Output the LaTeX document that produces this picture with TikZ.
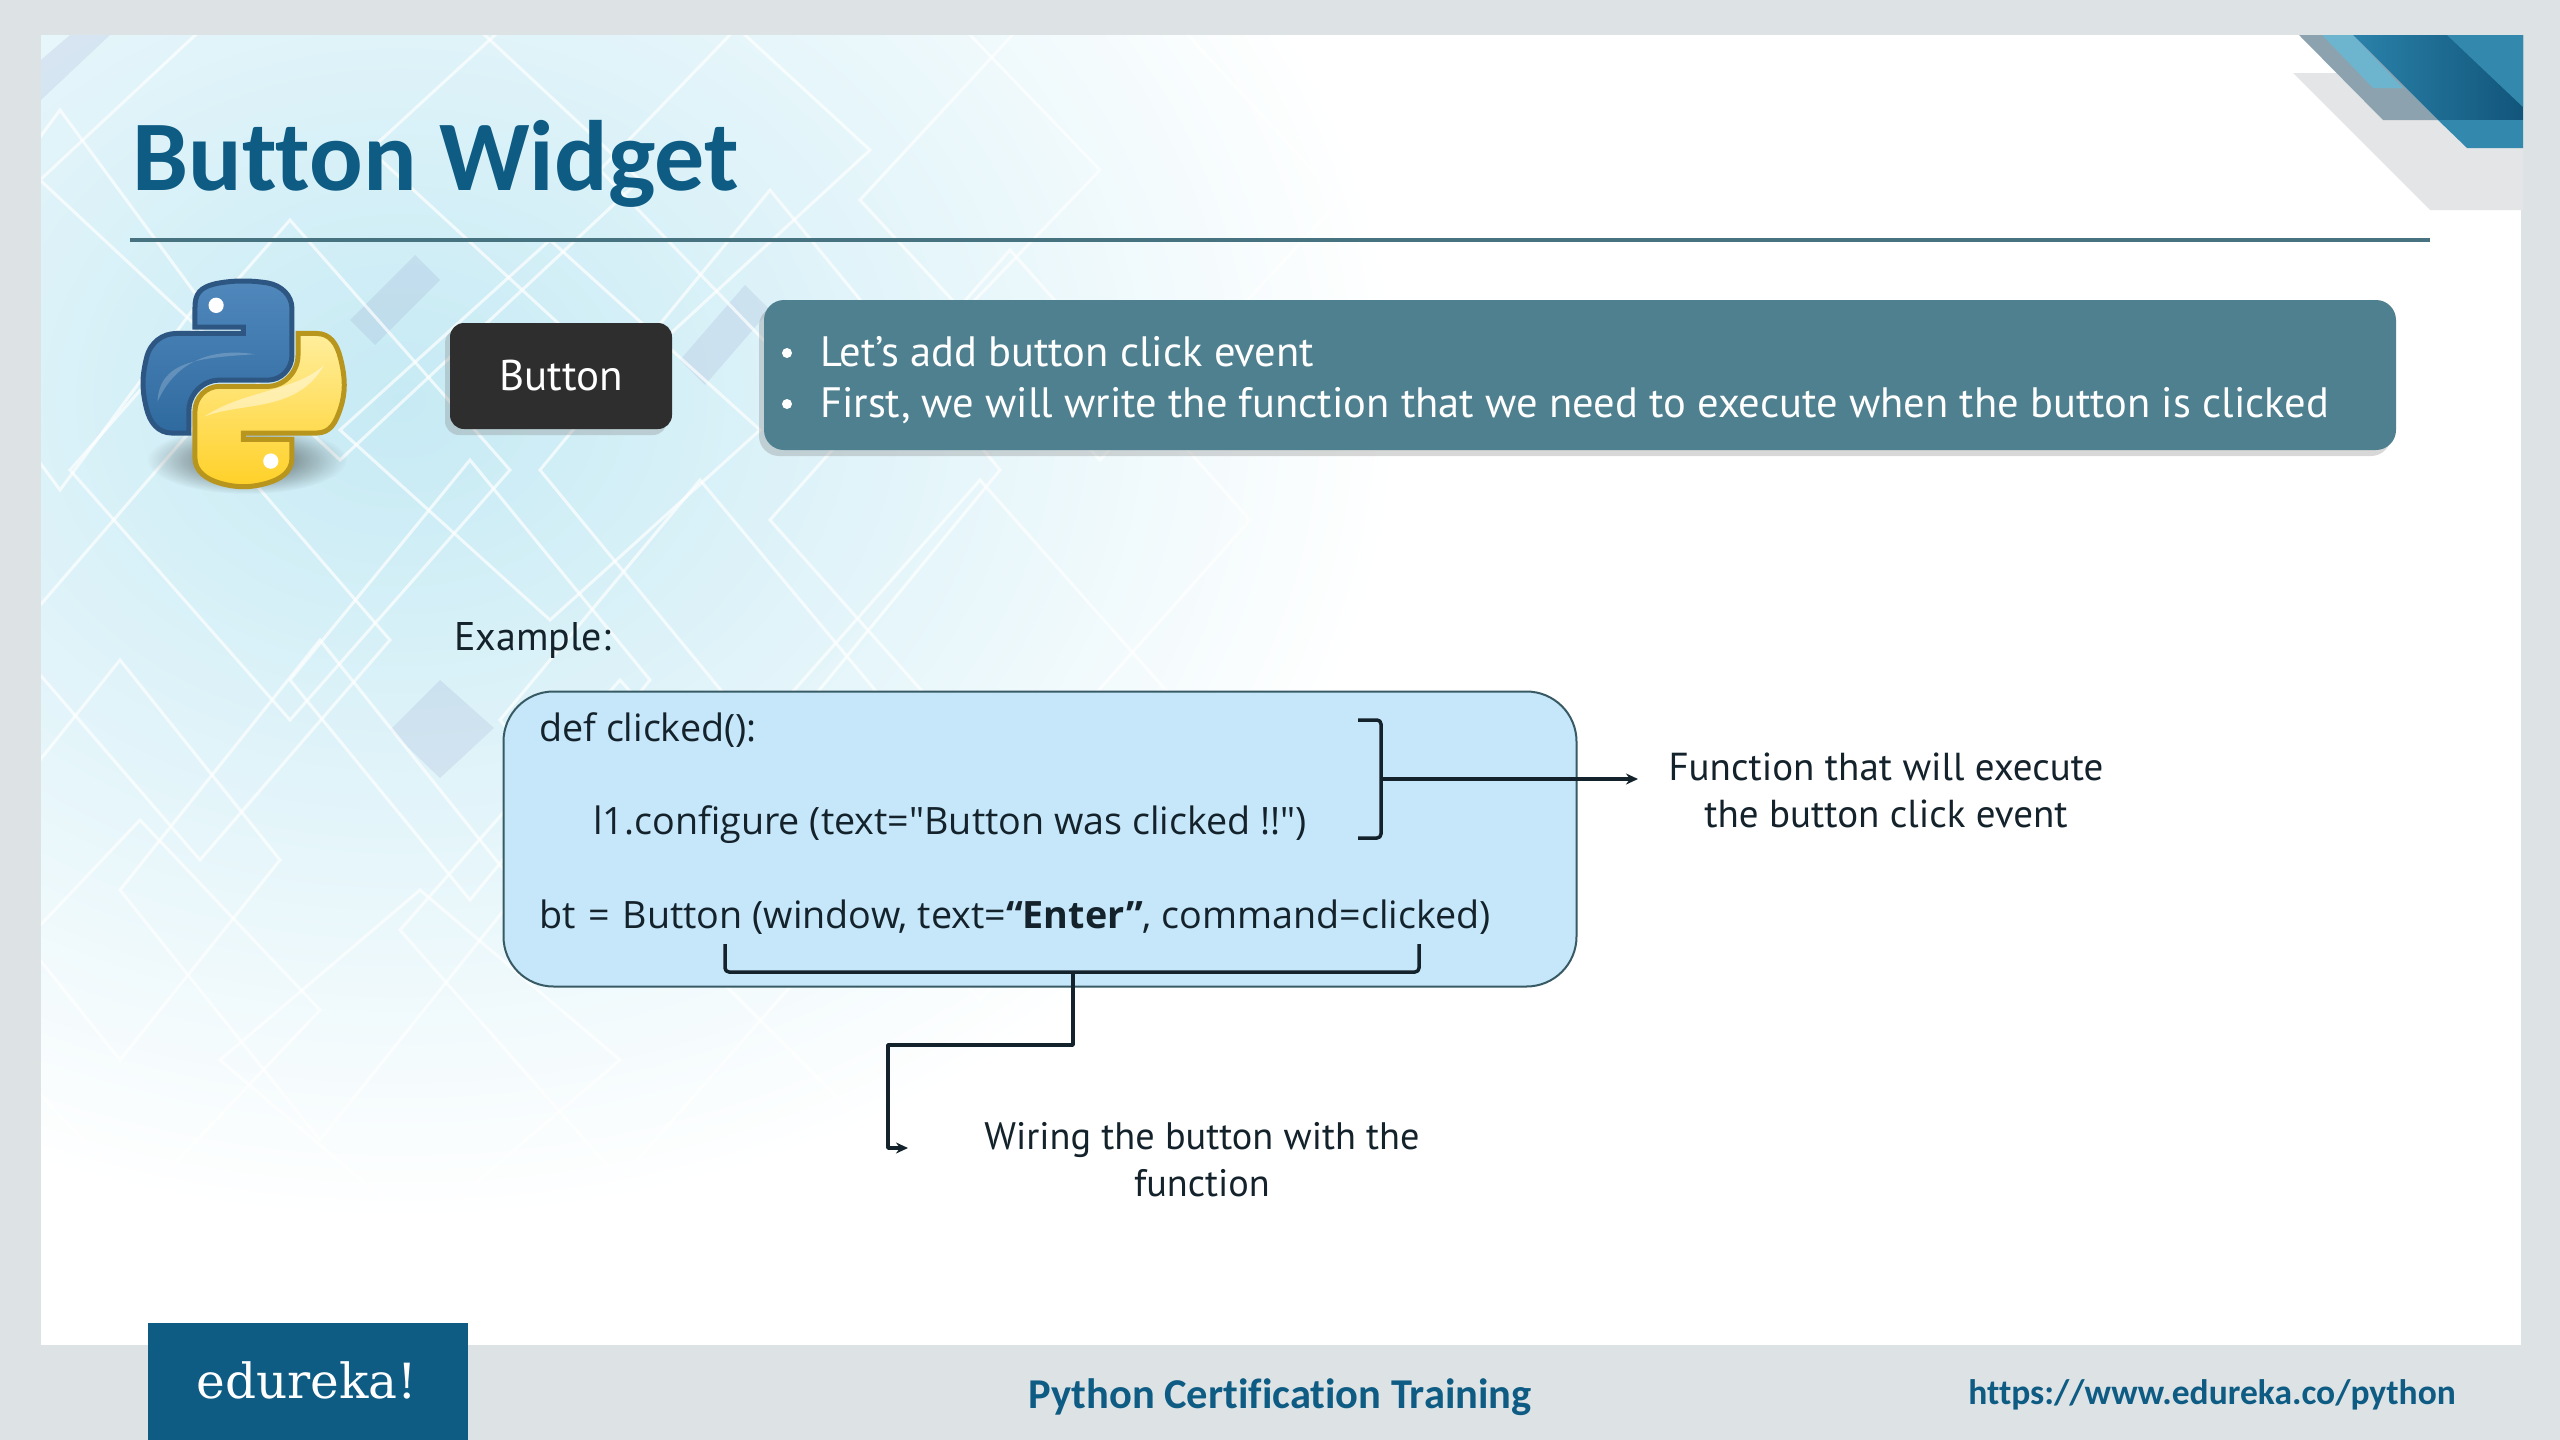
\documentclass[tikz,border=0pt]{standalone}
\usepackage{fontspec}
\setmainfont{PT Sans}
\newfontfamily\titlefont[Ligatures={NoCommon}]{Carlito}
\newfontfamily\codefont{Open Sans}
\newfontfamily\logofont{DejaVu Serif}
\usetikzlibrary{svg.path,shadows,fadings,arrows.meta}
\definecolor{framegrey}{HTML}{DDE2E5}
\definecolor{edublue}{HTML}{0E5C84}
\definecolor{skyblue}{HTML}{C6EAF4}
\definecolor{teal}{HTML}{4F808F}
\definecolor{codeblue}{HTML}{C6E7FA}
\definecolor{inkblack}{HTML}{14222B}
\definecolor{pyblueA}{HTML}{5088BC}
\definecolor{pyblueB}{HTML}{2F6A9F}
\definecolor{pyblueC}{HTML}{2E5682}
\definecolor{pygoldA}{HTML}{FFEE9C}
\definecolor{pygoldB}{HTML}{FFD026}
\definecolor{pygoldC}{HTML}{B8961E}
\definecolor{cornergrey}{HTML}{E4E5E6}
\definecolor{cornerslate}{HTML}{8CA3AF}
\definecolor{cornerlight}{HTML}{6DB4CF}
\definecolor{cornermid}{HTML}{3389AD}
\definecolor{cornerdarkA}{HTML}{2A82AA}
\definecolor{cornerdarkB}{HTML}{12557A}
\newcommand{\fsize}[1]{\fontsize{#1pt}{#1pt}\selectfont}
\tikzfading[name=softoval,inner color=transparent!0,outer color=transparent!100]
\begin{document}
\begin{tikzpicture}[x=1pt,y=-1pt]
    \tikzstyle{lattice}=[white,line width=3pt,opacity=0.7]
    \tikzstyle{patch}=[fill=blue!30!gray,opacity=0.1]
    \tikzstyle{codeline}=[inner sep=0pt,anchor=base west,text=inkblack,font=\codefont\fsize{37.7}]
    \tikzstyle{note}=[inner sep=0pt,anchor=base,text=inkblack,font=\fsize{39}]
    \tikzstyle{wire}=[draw=inkblack,line width=3.5pt,line join=round]
    \tikzstyle{card}=[inner sep=0pt,drop shadow={shadow xshift=-5pt,shadow yshift=-6pt,opacity=0.3}]
    \useasboundingbox (0,0) rectangle (2560,1440);
    \fill[framegrey] (0,0) rectangle (2560,1440);
    \fill[white] (41,35) rectangle (2521,1345);
    \begin{scope}
        \clip (41,35) rectangle (2521,1345);
        \shade[inner color=skyblue,outer color=white] (400,400) ellipse [x radius=1000,y radius=820];
        \foreach \px/\py/\qx/\qy/\rx/\ry/\sx/\sy in {41/60/70/35/110/35/41/100, 350/320/415/255/440/280/375/345, 390/730/440/680/494/728/440/778, 680/360/745/285/770/310/705/385}
            \fill[patch] (\px,\py) -- (\qx,\qy) -- (\rx,\ry) -- (\sx,\sy) -- cycle;
        \foreach \cx/\cy/\hx/\hy in {340/180/300/280, 620/150/250/230, 850/170/250/260, 1100/200/240/260,
                                     290/470/220/250, 550/430/210/190, 770/470/230/280, 1010/520/240/270,
                                     200/640/190/220, 470/680/180/220, 700/720/200/240, 980/740/230/260,
                                     120/860/160/200, 320/890/200/250, 620/930/220/250, 880/960/180/180,
                                     140/1010/180/190, 420/1060/200/170, 60/300/140/190}
            \draw[lattice] (\cx-\hx,\cy) -- (\cx,\cy-\hy) -- (\cx+\hx,\cy) -- (\cx,\cy+\hy) -- cycle;
    \end{scope}
    % corner
    \fill[cornergrey] (2293,73) -- (2430,210) -- (2523,210) -- (2523,73) -- cycle;
    \fill[cornerslate] (2299,35) -- (2383,120) -- (2438,120) -- (2353,35) -- cycle;
    \fill[cornerlight] (2322,35) -- (2373,88) -- (2403,88) -- (2353,35) -- cycle;
    \shade[left color=cornerdarkA,right color=cornerdarkB] (2353,35) -- (2438,120) -- (2523,120) -- (2523,35) -- cycle;
    \fill[cornermid] (2438,120) -- (2467,148) -- (2523,148) -- (2523,120) -- cycle;
    \fill[cornermid] (2447,35) -- (2523,107) -- (2523,35) -- cycle;
    % header
    \node[inner sep=0pt,anchor=base west,text=edublue,font=\titlefont\bfseries\fsize{100}] (title) at (132,190) {Button Widget};
    \draw[teal!90!black,line width=4pt] (130,240) -- (2430,240);
    % logo
    \fill[black,opacity=0.65,path fading=softoval] (247,460) ellipse [x radius=100,y radius=34];
    \begin{scope}[shift={(143,281)},xscale=1.81,yscale=-1.83]
        \shade[top color=pyblueA,bottom color=pyblueB,draw=pyblueC,line width=5pt]
            svg {M 54.92,0 C 50.34,0.02 45.96,0.41 42.11,1.09 30.76,3.1 28.7,7.29 28.7,15.03 v 10.22 h 26.81 v 3.41 h -26.81 -10.06 c -7.79,0 -14.62,4.68 -16.75,13.59 -2.46,10.21 -2.57,16.59 0,27.25 1.91,7.94 6.46,13.59 14.25,13.59 h 9.22 v -12.25 c 0,-8.85 7.66,-16.66 16.75,-16.66 h 26.78 c 7.45,0 13.41,-6.14 13.41,-13.63 v -25.53 c 0,-7.27 -6.13,-12.72 -13.41,-13.94 C 64.28,0.33 59.5,-0.02 54.92,0 Z};
        \fill[white,opacity=0.2] (8,-66) .. controls (9,-44) and (30,-42) .. (62,-40) .. controls (35,-36) and (17,-46) .. (8,-66);
        \shade[top color=pygoldA,bottom color=pygoldB,draw=pygoldC,line width=5pt]
            svg {M 85.64,28.66 v 11.91 c 0,9.23 -7.83,17 -16.75,17 h -26.78 c -7.34,0 -13.41,6.28 -13.41,13.63 v 25.53 c 0,7.27 6.32,11.54 13.41,13.63 8.49,2.5 16.63,2.95 26.78,0 6.75,-1.95 13.41,-5.89 13.41,-13.63 V 86.5 h -26.78 v -3.41 h 26.78 13.41 c 7.79,0 10.7,-5.44 13.41,-13.59 2.8,-8.4 2.74,-16.48 0,-27.25 -1.93,-7.76 -5.6,-13.59 -13.41,-13.59 Z};
        \fill[white,opacity=0.45] (34,-74) .. controls (55,-66) and (85,-72) .. (100,-46) .. controls (85,-60) and (55,-60) .. (34,-74);
        \fill[white] (40.4,-13.3) circle (4.2);
        \fill[white] (70.6,-98.4) circle (4.2);
    \end{scope}
    % boxes
    \node[card,fill=black!82,rounded corners=14pt,minimum width=222pt,minimum height=106pt] (btn) at (561,376) {};
    \node[text=white,font=\fsize{43}] at (btn) {Button};
    \node[card,fill=teal,rounded corners=20pt,minimum width=1632pt,minimum height=150pt] (info) at (1580,375) {};
    \foreach \y/\txt in {366/{Let’s add button click event}, 417/{First, we will write the function that we need to execute when the button is clicked}}{
        \fill[white] (787,\y-13) circle (5);
        \node[inner sep=0pt,anchor=base west,text=white,font=\fsize{42.5}] at (820,\y) {\txt};
    }
    \node[inner sep=0pt,anchor=base west,text=inkblack,font=\fsize{40}] (example) at (454,650) {Example:};
    % code
    \node[fill=codeblue,draw=teal!70!black,line width=2pt,rounded corners=50pt,minimum width=1073pt,minimum height=295pt,inner sep=0pt] (code) at (1040,839) {};
    \node[codeline] (def) at (539,741) {def clicked():};
    \node[codeline] (conf) at (593,834) {l1.configure (text="Button was clicked !!")};
    \node[codeline] (bt) at (539,928) {bt\kern3pt{} =\kern3pt{} Button (window, text=\textbf{“Enter”}, command=clicked)};
    % wires
    \coordinate (fa) at (1358,720);
    \coordinate (fb) at (1381,720);
    \coordinate (fc) at (1381,838);
    \coordinate (fd) at (1358,838);
    \coordinate (fm) at (1381,779);
    \coordinate (fe) at (1638,779);
    \coordinate (ga) at (725,944);
    \coordinate (gb) at (725,972);
    \coordinate (gc) at (1419,972);
    \coordinate (gd) at (1419,944);
    \coordinate (gm) at (1073,972);
    \coordinate (ge) at (1073,1045);
    \coordinate (gf) at (888,1045);
    \coordinate (gg) at (888,1148);
    \coordinate (gh) at (908,1148);
    \draw[wire,rounded corners=4pt] (fa) -- (fb) -- (fc) -- (fd);
    \draw[wire,-{Stealth[length=12pt,width=11pt]}] (fm) -- (fe);
    \draw[wire,rounded corners=4pt] (ga) -- (gb) -- (gc) -- (gd);
    \draw[wire,-{Stealth[length=12pt,width=11pt]}] (gm) -- (ge) -- (gf) -- (gg) -- (gh);
    \node[note] (fnone) at (1886,780) {Function that will execute};
    \node[note] (fntwo) at (1886,827) {the button click event};
    \node[note,font=\fsize{38.3}] (wireone) at (1202,1149) {Wiring the button with the};
    \node[note,font=\fsize{38.3}] (wiretwo) at (1202,1196) {function};
    % footer
    \fill[edublue] (148,1323) rectangle (468,1440);
    \node[text=white,font=\logofont\fsize{48.5}] (edu) at (307,1380) {edureka!};
    \node[inner sep=0pt,anchor=base,text=edublue,font=\titlefont\bfseries\fsize{42.5}] (course) at (1280,1408) {Python Certification Training};
    \node[inner sep=0pt,anchor=base east,text=edublue,font=\titlefont\bfseries\fsize{35.5}] (url) at (2456,1404) {https://www.edureka.co/python};
\end{tikzpicture}
\end{document}
